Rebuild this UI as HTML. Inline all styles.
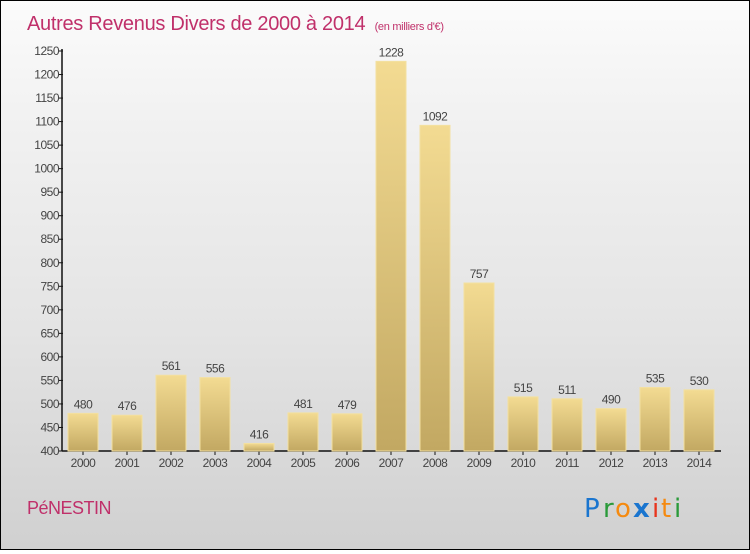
<!DOCTYPE html>
<html><head><meta charset="utf-8"><style>
html,body{margin:0;padding:0;}
body{width:750px;height:550px;overflow:hidden;font-family:"Liberation Sans","DejaVu Sans",sans-serif;}
#chart{position:absolute;left:0;top:0;width:748px;height:548px;border:1px solid #000;background:linear-gradient(#fbfbfb,#f2f2f2 20%,#e4e4e4 60%,#d0d0d0);}
</style></head><body>
<div id="chart">
<svg id="svg" width="748" height="548" viewBox="0 0 748 548" xmlns="http://www.w3.org/2000/svg">
<defs>
<linearGradient id="barg" x1="0" y1="0" x2="0" y2="1">
<stop offset="0" stop-color="#f3db92"/><stop offset="1" stop-color="#c2a862"/>
</linearGradient>
</defs>
<text x="26" y="29" font-size="20" fill="#c0306a" font-family="Liberation Sans, sans-serif" letter-spacing="-0.3">Autres Revenus Divers de 2000 à 2014 <tspan font-size="11" dx="4">(en milliers d'€)</tspan></text>
<g id="axes"></g>
<g id="bars"></g>
<text x="26" y="513" font-size="18" fill="#c0306a" letter-spacing="-0.5">PéNESTIN</text>
<g font-size="26" font-family="DejaVu Sans, sans-serif">
<text x="583" y="516" fill="#1a75cf">P</text><text x="602" y="516" fill="#2a9a3a">r</text><text x="614" y="516" fill="#f58a10">o</text><text x="632" y="516" fill="#1a75cf" font-weight="bold">x</text><text x="651" y="516" fill="#e8341c">i</text><text x="660" y="516" fill="#f58a10">t</text><text x="673" y="516" fill="#2a9a3a">i</text>
</g>
</svg>
</div>
<script>
const years=["2000","2001","2002","2003","2004","2005","2006","2007","2008","2009","2010","2011","2012","2013","2014"];
const values=[480,476,561,556,416,481,479,1228,1092,757,515,511,490,535,530];
const yTicks=[400,450,500,550,600,650,700,750,800,850,900,950,1000,1050,1100,1150,1200,1250];
const NS="http://www.w3.org/2000/svg";
const y0=450,y1=50,vmin=400,vmax=1250;
function yScale(v){return y0-(v-vmin)/(vmax-vmin)*(y0-y1);}
function xScale(i){return 82+i*44;}
function mk(t,a,p){const e=document.createElementNS(NS,t);for(const k in a)e.setAttribute(k,a[k]);p.appendChild(e);return e;}
const ax=document.getElementById('axes'),bg=document.getElementById('bars');
let l=mk('line',{x1:61,y1:y1-2,x2:61,y2:y0,stroke:'#111','stroke-width':1.5},ax);


l=mk('line',{x1:61,y1:y0,x2:720,y2:y0,stroke:'#111','stroke-width':1.5},ax);


yTicks.forEach(v=>{const y=yScale(v);
mk('line',{x1:58,y1:y,x2:62,y2:y,stroke:'#111'},ax);
const t=mk('text',{x:58,y:y+4,'font-size':12,fill:'#444','text-anchor':'end','letter-spacing':'-0.5'},ax);t.textContent=v;

});
years.forEach((yr,i)=>{const x=xScale(i),v=values[i],y=yScale(v);
const r=mk('rect',{x:x-15,y:y,width:30,height:y0-y,fill:'url(#barg)',stroke:'#f3e0a0','stroke-width':1},bg);


mk('line',{x1:x,y1:y0,x2:x,y2:y0+4,stroke:'#111'},ax);
const t=mk('text',{x:x,y:466,'font-size':12,fill:'#444','text-anchor':'middle','letter-spacing':'-0.5'},ax);t.textContent=yr;


const vl=mk('text',{x:x,y:y-5,'font-size':12,fill:'#444','text-anchor':'middle','letter-spacing':'-0.5'},bg);vl.textContent=v;

});
</script>
</body></html>
